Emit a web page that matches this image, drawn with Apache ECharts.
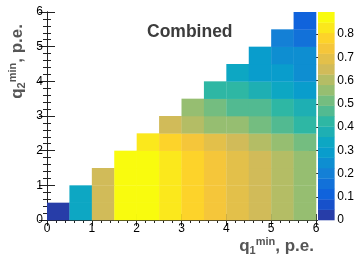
<!DOCTYPE html>
<html>
<head>
<meta charset="utf-8">
<script src="https://cdn.jsdelivr.net/npm/echarts@6/dist/echarts.min.js"></script>
<style>
  html, body { margin: 0; padding: 0; background: #fff; }
  #chart { width: 357px; height: 256px; }
</style>
</head>
<body>
<div id="chart"></div>
<script>
// bin edges, p.e.
const xEdges = [0, 0.5, 1, 1.5, 2, 2.5, 3, 3.5, 4, 4.5, 5, 5.5, 6];
const yEdges = [0, 0.5, 1, 1.5, 2, 2.5, 3, 3.5, 4, 4.5, 5, 5.5, 6];

// combined efficiency, one row per y bin (bottom first), null = empty bin
const effRows = [
  [0.03, 0.34, 0.65, 0.88, 0.88, 0.83, 0.79, 0.74, 0.70, 0.65, 0.61, 0.56],
  [null, 0.34, 0.65, 0.88, 0.88, 0.83, 0.79, 0.74, 0.70, 0.65, 0.61, 0.56],
  [null, null, 0.65, 0.88, 0.88, 0.83, 0.79, 0.74, 0.70, 0.65, 0.61, 0.56],
  [null, null, null, 0.88, 0.88, 0.83, 0.79, 0.74, 0.70, 0.65, 0.61, 0.56],
  [null, null, null, null, 0.83, 0.79, 0.74, 0.70, 0.65, 0.61, 0.56, 0.52],
  [null, null, null, null, null, 0.65, 0.61, 0.56, 0.56, 0.52, 0.47, 0.43],
  [null, null, null, null, null, null, 0.56, 0.52, 0.48, 0.45, 0.43, 0.38],
  [null, null, null, null, null, null, null, 0.43, 0.43, 0.38, 0.34, 0.29],
  [null, null, null, null, null, null, null, null, 0.34, 0.29, 0.29, 0.25],
  [null, null, null, null, null, null, null, null, null, 0.29, 0.25, 0.24],
  [null, null, null, null, null, null, null, null, null, null, 0.20, 0.17],
  [null, null, null, null, null, null, null, null, null, null, null, 0.11]
];

const zMax = 0.895;
const nLevels = 20;
const colorTicks = [0, 0.1, 0.2, 0.3, 0.4, 0.5, 0.6, 0.7, 0.8];

// ROOT kBird palette
const stops = [0, 0.125, 0.25, 0.375, 0.5, 0.625, 0.75, 0.875, 1];
const red = [0.2082, 0.0592, 0.0780, 0.0232, 0.1802, 0.5301, 0.8186, 0.9956, 0.9764];
const green = [0.1664, 0.3599, 0.5041, 0.6419, 0.7178, 0.7492, 0.7328, 0.7862, 0.9832];
const blue = [0.5293, 0.8684, 0.8385, 0.7914, 0.6425, 0.4662, 0.3499, 0.1968, 0.0539];

function bird(t) {
  let i = 0;
  while (i < stops.length - 2 && t > stops[i + 1]) i++;
  const f = (t - stops[i]) / (stops[i + 1] - stops[i]);
  const c = arr => Math.round(255 * (arr[i] + (arr[i + 1] - arr[i]) * f));
  return 'rgb(' + c(red) + ',' + c(green) + ',' + c(blue) + ')';
}

const step = zMax / nLevels;
const pieces = [];
const barData = [];
for (let k = 0; k < nLevels; k++) {
  const idx = Math.floor((k + 0.99) * 255 / nLevels);
  pieces.push({ gte: k * step, lt: k === nLevels - 1 ? 10 : (k + 1) * step, color: bird(Math.min(idx / 254, 1)) });
  barData.push([0, k * step, 1, (k + 1) * step, (k + 0.5) * step]);
}

const cells = [];
effRows.forEach((row, j) => {
  row.forEach((v, i) => {
    if (v !== null) cells.push([xEdges[i], yEdges[j], xEdges[i + 1], yEdges[j + 1], v]);
  });
});

function drawRect(params, api) {
  const p0 = api.coord([api.value(0), api.value(1)]);
  const p1 = api.coord([api.value(2), api.value(3)]);
  return {
    type: 'rect',
    shape: { x: p0[0], y: p1[1], width: p1[0] - p0[0] + 0.3, height: p0[1] - p1[1] + 0.3 },
    style: { fill: api.visual('color') }
  };
}

const font = 'Liberation Sans, Arial, Helvetica, sans-serif';
const frameLine = { show: true, lineStyle: { color: '#222', width: 1 } };
const titleRich = {
  m: { fill: '#555', fontFamily: font, fontWeight: 'bold', fontSize: 17, lineHeight: 20 },
  sub: { fill: '#555', fontFamily: font, fontWeight: 'bold', fontSize: 11, lineHeight: 9, verticalAlign: 'bottom' },
  sup: { fill: '#555', fontFamily: font, fontWeight: 'bold', fontSize: 11, lineHeight: 9, verticalAlign: 'top' }
};

const chart = echarts.init(document.getElementById('chart'));
chart.setOption({
  animation: false,
  backgroundColor: '#fff',
  textStyle: { fontFamily: font },
  grid: [
    { left: 47, top: 12, width: 269, height: 208 },
    { left: 318, top: 12, width: 17, height: 208 }
  ],
  xAxis: [
    {
      gridIndex: 0, type: 'value', min: 0, max: 6, interval: 1,
      axisLine: frameLine,
      axisTick: { inside: true, length: 6, lineStyle: { color: '#222' } },
      minorTick: { show: true, splitNumber: 5, length: 3, lineStyle: { color: '#222' } },
      splitLine: { show: false },
      axisLabel: { color: '#000', fontSize: 12, margin: 3, fontFamily: font }
    },
    {
      gridIndex: 0, type: 'value', position: 'top', min: 0, max: 6, interval: 1,
      axisLine: frameLine,
      axisTick: { inside: true, length: 6, lineStyle: { color: '#222' } },
      minorTick: { show: true, splitNumber: 5, length: 3, lineStyle: { color: '#222' } },
      splitLine: { show: false },
      axisLabel: { show: false }
    },
    { gridIndex: 1, type: 'value', min: 0, max: 1, show: false }
  ],
  yAxis: [
    {
      gridIndex: 0, type: 'value', min: 0, max: 6, interval: 1,
      axisLine: frameLine,
      axisTick: { inside: true, length: 8, lineStyle: { color: '#222' } },
      minorTick: { show: true, splitNumber: 5, length: 4, lineStyle: { color: '#222' } },
      splitLine: { show: false },
      axisLabel: { color: '#000', fontSize: 12, margin: 4, fontFamily: font }
    },
    {
      gridIndex: 0, type: 'value', position: 'right', min: 0, max: 6, interval: 1,
      axisLine: frameLine,
      axisTick: { inside: true, length: 8, lineStyle: { color: '#222' } },
      minorTick: { show: true, splitNumber: 5, length: 4, lineStyle: { color: '#222' } },
      splitLine: { show: false },
      axisLabel: { show: false }
    },
    {
      gridIndex: 1, type: 'value', position: 'right', min: 0, max: zMax,
      axisLine: { show: false },
      axisTick: { inside: true, length: 9, customValues: colorTicks, lineStyle: { color: '#333' } },
      splitLine: { show: false },
      axisLabel: {
        customValues: colorTicks, color: '#000', fontSize: 12, margin: 3, fontFamily: font,
        formatter: v => String(Math.round(v * 10) / 10)
      }
    }
  ],
  visualMap: {
    type: 'piecewise', show: false, dimension: 4, seriesIndex: [0, 1], pieces: pieces
  },
  series: [
    {
      type: 'custom', xAxisIndex: 0, yAxisIndex: 0, renderItem: drawRect,
      encode: { x: [0, 2], y: [1, 3] }, data: cells, z: 1
    },
    {
      type: 'custom', xAxisIndex: 2, yAxisIndex: 2, renderItem: drawRect,
      encode: { x: [0, 2], y: [1, 3] }, data: barData
    }
  ],
  graphic: [
    {
      type: 'text', x: 147, y: 32, z: 10,
      style: { text: 'Combined', fill: '#3c3c3c', font: 'bold 17.5px ' + font, verticalAlign: 'middle' }
    },
    {
      type: 'text', x: 314, y: 246, z: 10,
      style: { text: '{m|q}{sub|1}{sup|min}{m|, p.e.}', align: 'right', verticalAlign: 'middle', rich: titleRich }
    },
    {
      type: 'text', x: 17, y: 24, rotation: Math.PI / 2, z: 10,
      style: { text: '{m|q}{sub|2}{sup|min}{m|, p.e.}', align: 'right', verticalAlign: 'middle', rich: titleRich }
    }
  ]
});
</script>
</body>
</html>
